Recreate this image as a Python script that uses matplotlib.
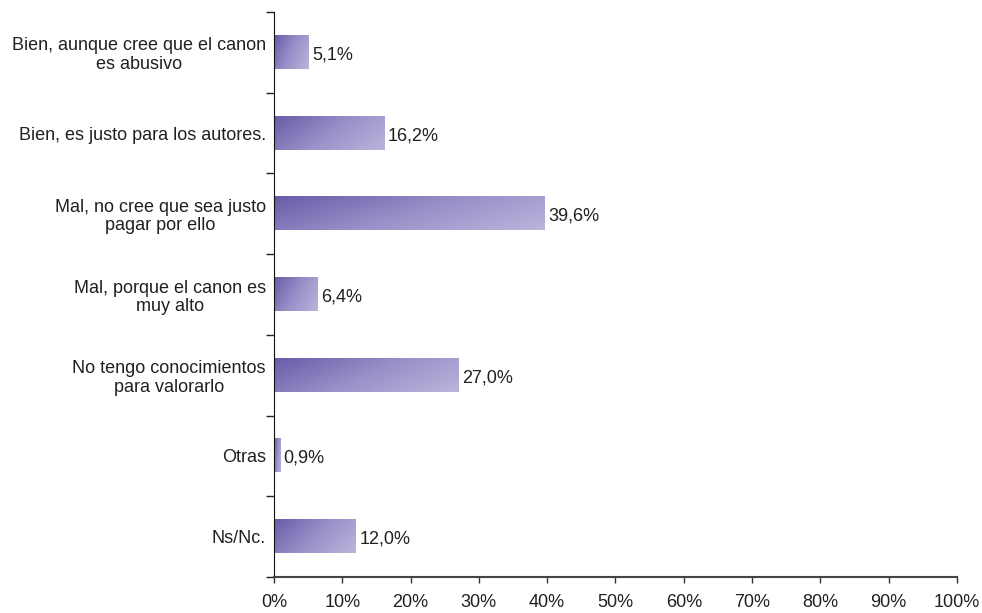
import numpy as np
import matplotlib.pyplot as plt
from matplotlib.colors import LinearSegmentedColormap

plt.rcParams['font.family'] = ['Liberation Sans', 'DejaVu Sans']

categories = [
    "Bien, aunque cree que el canon\nes abusivo",
    "Bien, es justo para los autores.",
    "Mal, no cree que sea justo\npagar por ello",
    "Mal, porque el canon es\nmuy alto",
    "No tengo conocimientos\npara valorarlo",
    "Otras",
    "Ns/Nc.",
]
values = [5.1, 16.2, 39.6, 6.4, 27.0, 0.9, 12.0]
xticks = [0, 10, 20, 30, 40, 50, 60, 70, 80, 90, 100]

cmap = LinearSegmentedColormap.from_list("lila", ["#6a5ba8", "#9a8fc8", "#bcb4dc"])

# diagonal shading for each bar: dark at top-left, light at bottom-right
gx, gy = np.meshgrid(np.linspace(0, 1, 200), np.linspace(0, 1, 40))
shade = 0.7 * gx + 0.3 * gy

fs = 13
txt = '#231f20'

fig = plt.figure(figsize=(9.82, 6.13), dpi=100)
ax = fig.add_axes([0.279, 0.0587, 0.6955, 0.9217])

h = 0.41
ypos = np.arange(len(categories))
for y, v in zip(ypos, values):
    ax.imshow(shade, cmap=cmap, aspect='auto', interpolation='bilinear',
              extent=(0, v, y + h / 2, y - h / 2), origin='upper', zorder=2)
    ax.text(v + 0.5, y + 0.03, f"{v:.1f}%".replace('.', ','), va='center', ha='left',
            fontsize=fs, color=txt)

ax.set_xlim(0, 100)
ax.set_ylim(len(categories) - 0.5, -0.5)

ax.set_xticks(xticks)
ax.set_xticklabels([f"{t}%" for t in xticks], fontsize=fs, color=txt)
ax.tick_params(axis='x', direction='out', length=4, width=1, color='#333333', pad=8)

ax.set_yticks(ypos)
ax.set_yticklabels(categories, fontsize=fs, color=txt, linespacing=1.1)
for lab in ax.get_yticklabels():
    lab.set_multialignment('center')
ax.tick_params(axis='y', which='major', length=0, pad=6)
ax.set_yticks(np.arange(-0.5, len(categories)), minor=True)
ax.tick_params(axis='y', which='minor', direction='out', length=6, width=1, color='#222222')

for s in ['top', 'right']:
    ax.spines[s].set_visible(False)
ax.spines['left'].set_color('#111111')
ax.spines['bottom'].set_color('#444444')
ax.spines['bottom'].set_linewidth(1.5)

fig.savefig("out.png", dpi=100)
